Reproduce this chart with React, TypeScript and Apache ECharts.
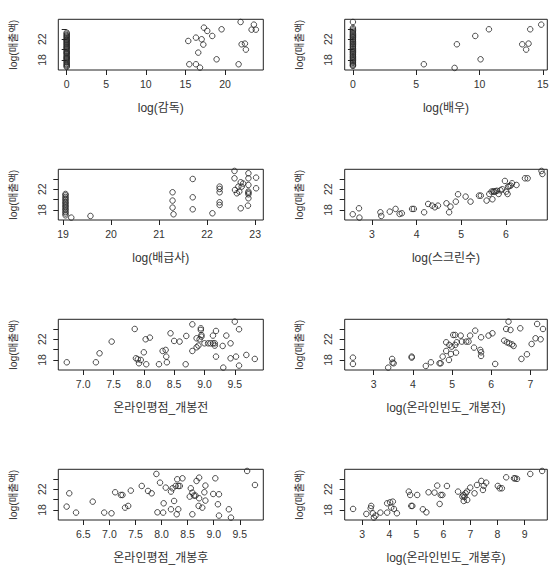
import React, { useEffect, useRef } from "react";
import * as echarts from "echarts";

// ---- data ----
const yTicks = [18, 20, 22, 24];
const yTickLabels = [18, 22];
const yTitle = "log(매출액)";

const xTitles = [
  "log(감독)",
  "log(배우)",
  "log(배급사)",
  "log(스크린수)",
  "온라인평점_개봉전",
  "log(온라인빈도_개봉전)",
  "온라인평점_개봉후",
  "log(온라인빈도_개봉후)",
];

const xTicks = [
  [0, 5, 10, 15, 20],
  [0, 5, 10, 15],
  [19, 20, 21, 22, 23],
  [3, 4, 5, 6],
  [7.0, 7.5, 8.0, 8.5, 9.0, 9.5],
  [3, 4, 5, 6, 7],
  [6.5, 7.0, 7.5, 8.0, 8.5, 9.0, 9.5],
  [3, 4, 5, 6, 7, 8, 9],
];

const xRanges = [
  [-1.06, 24.84],
  [-0.65, 15.35],
  [18.9, 23.17],
  [2.39, 6.93],
  [6.59, 9.97],
  [2.26, 7.43],
  [6.02, 9.95],
  [2.35, 9.84],
];

const xDecimals = [0, 0, 0, 0, 1, 0, 1, 0];

const directorZeroY = [
  23.27, 23.05, 22.8, 22.61, 22.4, 22.18, 21.95, 21.8, 21.6, 21.41, 21.2, 21.02,
  20.83, 20.6, 20.44, 20.25, 20.06, 19.8, 19.6, 19.41, 19.28, 19.09, 18.83, 18.64,
  18.44, 18.31, 18.12, 17.93, 17.67, 17.48, 17.22, 17.03, 16.83, 16.64,
];
const directorOther = [
  [15.36, 21.66], [15.49, 17.16], [16.33, 22.31], [16.33, 17.16], [16.62, 19.41],
  [16.84, 16.51], [17.05, 21.99], [17.26, 20.96], [17.34, 24.24], [17.76, 23.6],
  [18.39, 22.63], [18.94, 18.12], [19.57, 23.92], [21.72, 17.16], [21.97, 25.33],
  [22.1, 21.02], [22.52, 21.15], [22.64, 19.99], [23.36, 23.85], [23.65, 24.82],
  [23.9, 23.85],
];

const actorZeroY = [
  25.33, 24.17, 23.92, 23.66, 23.4, 23.15, 22.9, 22.7, 22.5, 22.31, 22.05, 21.86,
  21.6, 21.41, 21.15, 20.96, 20.7, 20.5, 20.25, 20.06, 19.8, 19.6, 19.41, 19.15,
  18.96, 18.7, 18.51, 18.31, 18.06, 17.86, 17.6, 17.41, 17.16, 16.96, 16.83,
];
const actorOther = [
  [5.6, 17.16], [8.03, 16.45], [8.21, 21.02], [9.66, 22.63], [10.08, 18.12],
  [10.74, 23.92], [13.37, 21.02], [13.68, 19.99], [13.87, 21.15], [14.0, 23.92],
  [14.87, 24.82],
];

const distributorLowY = [
  21.08, 20.83, 20.5, 20.2, 19.93, 19.6, 19.35, 19.05, 18.77, 18.5, 18.2, 17.93,
  17.6, 17.3, 16.96,
];
const distributorOther = [
  [19.17, 16.51], [19.57, 16.83], [21.28, 21.41], [21.28, 19.8], [21.28, 18.44],
  [21.3, 17.16], [21.7, 23.98], [21.7, 20.44], [21.7, 18.12], [22.11, 17.35],
  [22.26, 22.5], [22.26, 22.05], [22.26, 21.41], [22.26, 19.47], [22.26, 18.96],
  [22.57, 25.53], [22.57, 24.11], [22.58, 21.86], [22.62, 21.21], [22.65, 22.5],
  [22.67, 21.54], [22.7, 23.34], [22.72, 22.5], [22.7, 18.31], [22.75, 23.1],
  [22.86, 25.08], [22.86, 24.11], [22.86, 22.82], [22.86, 21.54], [22.86, 21.02],
  [22.86, 20.25], [22.85, 18.83], [23.02, 24.24], [23.02, 22.18], [22.86, 21.3],
];

const screens = [
  [2.57, 17.16], [2.71, 18.31], [2.72, 16.51], [3.19, 17.54], [3.21, 16.83],
  [3.4, 17.67], [3.53, 18.19], [3.62, 17.22], [3.67, 17.35], [3.9, 18.19],
  [3.94, 18.19], [4.17, 17.54], [4.26, 19.15], [4.35, 18.83], [4.41, 18.51],
  [4.48, 18.83], [4.67, 19.28], [4.73, 17.54], [4.76, 18.64], [4.88, 19.6],
  [4.93, 21.02], [5.1, 20.57], [5.21, 19.6], [5.4, 20.76], [5.44, 20.76],
  [5.57, 19.8], [5.63, 21.08], [5.68, 21.54], [5.7, 20.06], [5.72, 21.6],
  [5.77, 21.6], [5.8, 21.7], [5.84, 21.08], [5.92, 21.99], [5.98, 23.6],
  [6.01, 21.54], [6.04, 21.08], [6.05, 22.5], [6.11, 22.7], [6.14, 23.15],
  [6.24, 22.82], [6.43, 24.11], [6.49, 24.11], [6.8, 25.53], [6.82, 24.95],
  [5.74, 21.5], [6.08, 22.6], [5.88, 21.8],
];

const ratingBefore = [
  [6.73, 17.54], [7.21, 17.54], [7.27, 19.28], [7.47, 21.54], [7.85, 23.98],
  [7.87, 18.31], [7.9, 18.12], [7.92, 17.35], [7.95, 17.99], [8.0, 19.47],
  [8.03, 21.99], [8.04, 17.16], [8.1, 22.31], [8.25, 17.16], [8.31, 19.73],
  [8.36, 19.93], [8.37, 18.64], [8.38, 17.54], [8.44, 23.15], [8.5, 21.67],
  [8.59, 21.54], [8.69, 17.16], [8.7, 22.63], [8.8, 24.88], [8.8, 19.73],
  [8.87, 20.44], [8.9, 20.76], [8.87, 22.18], [8.94, 24.11], [8.94, 23.79],
  [8.95, 22.82], [8.95, 22.5], [8.92, 21.99], [9.0, 21.21], [9.06, 21.21],
  [9.1, 21.21], [9.14, 21.21], [9.17, 21.21], [9.14, 22.7], [9.17, 20.76],
  [9.19, 18.64], [9.19, 23.6], [9.3, 20.7], [9.31, 16.51], [9.36, 22.7],
  [9.43, 21.21], [9.43, 18.31], [9.5, 25.4], [9.52, 18.64], [9.57, 23.92],
  [9.57, 16.9], [9.69, 18.96], [9.83, 18.19],
];

const freqBefore = [
  [2.47, 18.44], [2.47, 17.22], [3.37, 16.51], [3.47, 18.19], [3.48, 17.48],
  [3.51, 17.35], [3.97, 18.64], [3.97, 18.44], [4.33, 16.83], [4.46, 17.54],
  [4.68, 17.35], [4.71, 17.35], [4.76, 18.64], [4.85, 19.73], [4.85, 21.41],
  [4.92, 17.99], [4.93, 20.89], [4.97, 19.15], [4.99, 20.57], [5.03, 22.82],
  [5.08, 22.82], [5.08, 20.89], [5.1, 19.41], [5.12, 21.41], [5.22, 22.7],
  [5.25, 21.54], [5.36, 21.54], [5.42, 21.54], [5.46, 22.7], [5.56, 20.38],
  [5.59, 23.66], [5.72, 19.93], [5.74, 19.47], [5.74, 18.77], [5.74, 22.37],
  [5.93, 22.7], [6.03, 23.15], [6.1, 17.22], [6.33, 21.73], [6.4, 21.4],
  [6.46, 21.2], [6.53, 21.0], [6.38, 23.98], [6.49, 23.79], [6.57, 20.7],
  [6.44, 25.4], [6.74, 24.11], [6.77, 18.19], [6.91, 19.09], [7.03, 21.08],
  [7.13, 22.18], [7.17, 24.95], [7.26, 21.99], [7.32, 23.98],
];

const ratingAfter = [
  [6.18, 18.64], [6.23, 21.21], [6.36, 17.48], [6.68, 19.6], [6.9, 17.48],
  [7.04, 17.35], [7.11, 21.41], [7.22, 20.89], [7.25, 20.89], [7.3, 18.44],
  [7.36, 18.77], [7.41, 21.73], [7.62, 22.63], [7.74, 21.67], [7.81, 21.21],
  [7.9, 24.95], [7.92, 17.54], [7.97, 23.27], [8.03, 17.48], [8.04, 19.28],
  [8.08, 22.31], [8.18, 18.12], [8.18, 21.54], [8.21, 22.18], [8.24, 19.73],
  [8.27, 22.63], [8.29, 17.16], [8.3, 23.92], [8.32, 18.12], [8.32, 22.63],
  [8.35, 22.63], [8.4, 24.11], [8.54, 20.57], [8.56, 22.18], [8.59, 17.16],
  [8.59, 21.34], [8.62, 20.77], [8.65, 20.77], [8.67, 23.6], [8.72, 24.24],
  [8.72, 20.25], [8.71, 18.77], [8.78, 18.44], [8.82, 21.41], [8.84, 22.7],
  [8.84, 19.8], [8.99, 21.08], [9.03, 24.11], [9.08, 19.09], [9.1, 16.9],
  [9.1, 21.02], [9.29, 18.12], [9.33, 16.51], [9.64, 25.53], [9.79, 22.82],
];

const freqAfter = [
  [2.66, 18.19], [3.15, 17.22], [3.31, 18.31], [3.33, 18.77], [3.39, 17.35],
  [3.43, 16.51], [3.49, 16.9], [3.67, 17.48], [3.92, 17.48], [3.92, 19.28],
  [4.03, 19.47], [4.13, 19.6], [4.07, 18.44], [4.17, 18.19], [4.28, 17.35],
  [4.72, 21.54], [4.77, 20.89], [4.81, 18.77], [4.85, 18.77], [5.03, 20.89],
  [5.24, 18.12], [5.37, 17.54], [5.45, 21.41], [5.67, 21.34], [5.77, 22.7],
  [5.86, 19.15], [5.9, 20.89], [5.96, 20.89], [6.13, 22.63], [6.54, 21.54],
  [6.7, 20.6], [6.74, 20.9], [6.78, 20.5], [6.75, 19.73], [6.82, 21.21],
  [6.87, 21.54], [6.88, 19.93], [6.99, 22.31], [7.15, 21.21], [7.24, 22.82],
  [7.4, 23.6], [7.46, 21.86], [7.49, 22.63], [7.58, 23.27], [8.01, 22.63],
  [8.08, 22.18], [8.16, 22.18], [8.32, 24.3], [8.61, 24.1], [8.65, 24.1],
  [8.72, 24.0], [9.21, 24.95], [9.65, 25.53],
];

const panelData = [
  [...directorZeroY.map((y) => [0, y]), ...directorOther],
  [...actorZeroY.map((y) => [0, y]), ...actorOther],
  [...distributorLowY.map((y) => [19.05, y]), ...distributorOther],
  screens,
  ratingBefore,
  freqBefore,
  ratingAfter,
  freqAfter,
];

// ---- layout ----
const colLeft = [58.3, 344.7];
const colWidth = [205, 202.6];
const rowTop = [19.3, 169.3, 319.3, 469.3];
const boxHeight = 50.7;
const yMin = 16.05;
const yMax = 25.85;

const TXT = "#333";
const FONT = "'Liberation Sans', 'Noto Sans CJK KR', Arial, sans-serif";

export default function App() {
  const ref = useRef<HTMLDivElement>(null);
  useEffect(() => {
    if (!ref.current) return;
    const chart = echarts.init(ref.current, undefined, { renderer: "svg" });
    const grids: any[] = [];
    const xAxes: any[] = [];
    const yAxes: any[] = [];
    const series: any[] = [];
    for (let i = 0; i < 8; i++) {
      const col = i % 2;
      const row = Math.floor(i / 2);
      grids.push({
        left: colLeft[col],
        top: rowTop[row],
        width: colWidth[col],
        height: boxHeight,
        show: true,
        borderColor: "#222",
        borderWidth: 1,
        backgroundColor: "transparent",
        containLabel: false,
        outerBoundsMode: "none",
      });
      const dec = xDecimals[i];
      xAxes.push({
        gridIndex: i,
        type: "value",
        min: xRanges[i][0],
        max: xRanges[i][1],
        axisLine: { show: false },
        splitLine: { show: false },
        axisTick: {
          show: true,
          inside: false,
          length: 5,
          lineStyle: { color: "#222", width: 1 },
          customValues: xTicks[i],
        },
        axisLabel: {
          show: true,
          customValues: xTicks[i],
          formatter: (v: number) => v.toFixed(dec),
          margin: 9,
          color: TXT,
          fontSize: 10.5,
          fontFamily: FONT,
        },
        name: xTitles[i],
        nameLocation: "middle",
        nameGap: 32,
        nameTextStyle: { color: TXT, fontSize: 12, fontFamily: FONT },
      });
      yAxes.push({
        gridIndex: i,
        type: "value",
        min: yMin,
        max: yMax,
        axisLine: { show: false },
        splitLine: { show: false },
        axisTick: {
          show: true,
          inside: false,
          length: 5,
          lineStyle: { color: "#222", width: 1 },
          customValues: yTicks,
        },
        axisLabel: {
          show: true,
          customValues: yTickLabels,
          rotate: 90,
          margin: 11,
          color: TXT,
          fontSize: 10.5,
          fontFamily: FONT,
        },
        name: yTitle,
        nameLocation: "middle",
        nameRotate: 90,
        nameGap: 40,
        nameTextStyle: { color: TXT, fontSize: 10.5, fontFamily: FONT },
      });
      series.push({
        type: "scatter",
        xAxisIndex: i,
        yAxisIndex: i,
        data: panelData[i],
        symbol: "circle",
        symbolSize: 5.5,
        itemStyle: { color: "transparent", borderColor: "#222", borderWidth: 1 },
        emphasis: { disabled: true },
      });
    }
    chart.setOption({
      animation: false,
      backgroundColor: "#fff",
      grid: grids,
      xAxis: xAxes,
      yAxis: yAxes,
      series,
    });
    return () => chart.dispose();
  }, []);
  return (
    <div
      ref={ref}
      style={{ position: "fixed", left: 0, top: 0, width: 557, height: 565 }}
    />
  );
}
